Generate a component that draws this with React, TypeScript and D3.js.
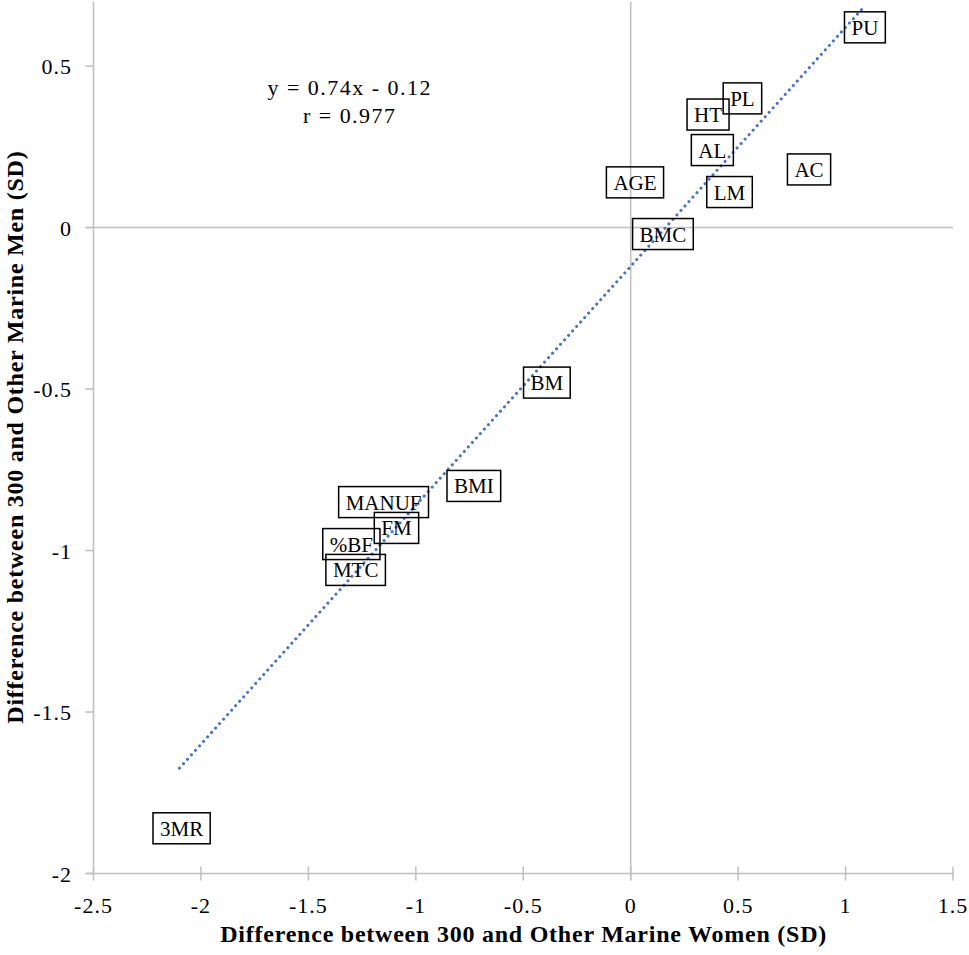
import * as d3 from "d3";
import React, { useEffect, useRef } from "react";

// variables (labels) and their differences in SD units
const labels = ["PU", "PL", "HT", "AL", "LM", "AC", "AGE", "BMC", "BM", "BMI", "MANUF", "FM", "%BF", "MTC", "3MR"];
const womenDiff = [1.09, 0.52, 0.36, 0.38, 0.46, 0.83, 0.02, 0.15, -0.39, -0.73, -1.15, -1.09, -1.3, -1.28, -2.09];
const menDiff = [0.62, 0.4, 0.35, 0.24, 0.11, 0.18, 0.14, -0.02, -0.48, -0.8, -0.85, -0.93, -0.98, -1.06, -1.86];

const xTicks = [-2.5, -2, -1.5, -1, -0.5, 0, 0.5, 1, 1.5];
const yTicks = [-2, -1.5, -1, -0.5, 0, 0.5];

// linear trend
const trendSlope = 0.74;
const trendIntercept = -0.12;
const trendRange = [-2.1, 1.08];

const W = 969;
const H = 955;
const font = "Liberation Serif, DejaVu Serif, serif";
const gray = "#bfbfbf";

const App = () => {
  const ref = useRef(null);

  useEffect(() => {
    const svg = d3.select(ref.current);
    svg.selectAll("*").remove();

    const x = d3.scaleLinear().domain([-2.5, 1.5]).range([93.5, 953]);
    const y = d3.scaleLinear().domain([-2, 0.7]).range([873.5, 1.5]);

    // axes lines
    const g = svg.append("g").attr("stroke", gray).attr("stroke-width", 1.5);
    g.append("line").attr("x1", x(-2.5)).attr("x2", x(-2.5)).attr("y1", y(0.7)).attr("y2", y(-2));
    g.append("line").attr("x1", x(-2.5) - 8).attr("x2", x(1.5)).attr("y1", y(-2)).attr("y2", y(-2));
    // zero lines
    g.append("line").attr("x1", x(0)).attr("x2", x(0)).attr("y1", y(0.7)).attr("y2", y(-2) + 7);
    g.append("line").attr("x1", x(-2.5) - 8).attr("x2", x(1.5)).attr("y1", y(0)).attr("y2", y(0));

    // ticks
    g.selectAll(".xt")
      .data(xTicks)
      .enter()
      .append("line")
      .attr("x1", (d) => x(d))
      .attr("x2", (d) => x(d))
      .attr("y1", y(-2) - 7)
      .attr("y2", y(-2) + 7);
    g.selectAll(".yt")
      .data(yTicks)
      .enter()
      .append("line")
      .attr("x1", x(-2.5) - 8)
      .attr("x2", x(-2.5))
      .attr("y1", (d) => y(d))
      .attr("y2", (d) => y(d));

    // tick labels
    svg
      .selectAll(".xl")
      .data(xTicks)
      .enter()
      .append("text")
      .attr("x", (d) => x(d))
      .attr("y", 913)
      .attr("text-anchor", "middle")
      .style("font-family", font)
      .style("letter-spacing", "1px")
      .attr("font-size", 22)
      .text((d) => String(d));
    svg
      .selectAll(".yl")
      .data(yTicks)
      .enter()
      .append("text")
      .attr("x", 72)
      .attr("y", (d) => y(d) + 8)
      .attr("text-anchor", "end")
      .style("font-family", font)
      .style("letter-spacing", "1px")
      .attr("font-size", 22)
      .text((d) => String(d));

    // axis titles
    const xTitle = svg
      .append("text")
      .attr("x", (x(-2.5) + x(1.5)) / 2)
      .attr("y", 942)
      .attr("text-anchor", "middle")
      .style("font-family", font)
      .attr("font-size", 24)
      .attr("font-weight", "bold")
      .text("Difference between 300 and Other Marine Women (SD)");
    const yTitle = svg
      .append("text")
      .attr("transform", `translate(23, ${(y(0.7) + y(-2)) / 2}) rotate(-90)`)
      .attr("text-anchor", "middle")
      .style("font-family", font)
      .attr("font-size", 24)
      .attr("font-weight", "bold")
      .text("Difference between 300 and Other Marine Men (SD)");
    const xLen = (xTitle.node() as SVGTextElement).getComputedTextLength();
    const yLen = (yTitle.node() as SVGTextElement).getComputedTextLength();
    const stretch = 606 / xLen;
    xTitle.attr("textLength", 606).attr("lengthAdjust", "spacing");
    yTitle.attr("textLength", yLen * stretch).attr("lengthAdjust", "spacing");

    // trend line
    const line = d3
      .line()
      .x((d) => x(d))
      .y((d) => y(trendSlope * d + trendIntercept));
    svg
      .append("path")
      .datum(trendRange)
      .attr("d", line)
      .attr("fill", "none")
      .attr("stroke", "#4472c4")
      .attr("stroke-width", 3)
      .attr("stroke-linecap", "round")
      .attr("stroke-dasharray", "0.1 5.9");

    // equation
    svg
      .append("text")
      .attr("x", 349)
      .attr("y", 95)
      .attr("text-anchor", "middle")
      .style("font-family", font)
      .attr("font-size", 22)
      .attr("textLength", 163)
      .attr("lengthAdjust", "spacing")
      .text(`y = ${trendSlope}x - ${Math.abs(trendIntercept)}`);
    svg
      .append("text")
      .attr("x", 349)
      .attr("y", 123)
      .attr("text-anchor", "middle")
      .style("font-family", font)
      .attr("font-size", 22)
      .attr("textLength", 92)
      .attr("lengthAdjust", "spacing")
      .text("r = 0.977");

    // boxed data labels
    const pts = labels.map((l, i) => ({ label: l, wx: womenDiff[i], my: menDiff[i] }));
    const lbl = svg
      .selectAll(".lbl")
      .data(pts)
      .enter()
      .append("g")
      .attr("transform", (d) => `translate(${x(d.wx)}, ${y(d.my)})`);
    lbl
      .append("text")
      .attr("text-anchor", "middle")
      .attr("y", 7.5)
      .style("font-family", font)
      .attr("font-size", 21)
      .text((d) => d.label);
    lbl.each(function () {
      const gg = d3.select(this);
      const w = (gg.select("text").node() as SVGTextElement).getComputedTextLength() + 14;
      gg.insert("rect", "text")
        .attr("x", -w / 2)
        .attr("y", -15.5)
        .attr("width", w)
        .attr("height", 31)
        .attr("fill", "none")
        .attr("stroke", "#000")
        .attr("stroke-width", 1.5);
    });
  }, []);

  return (
    <svg
      ref={ref}
      width={W}
      height={H}
      style={{ position: "absolute", left: 0, top: 0, background: "#fff" }}
    />
  );
};

export default App;
